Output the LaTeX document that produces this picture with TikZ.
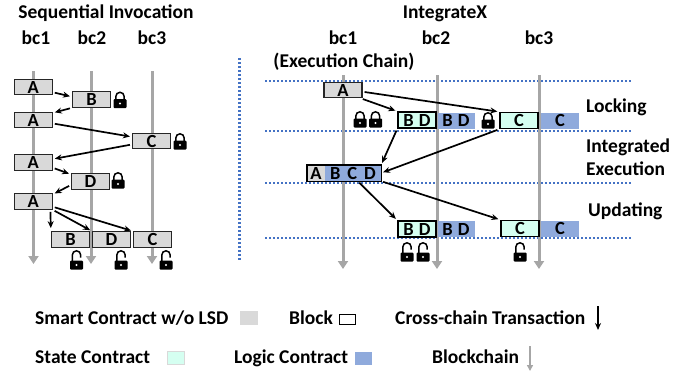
\documentclass[tikz,border=0pt]{standalone}
\usepackage{fontspec}
\setmainfont{Carlito}
\usetikzlibrary{arrows.meta}

\definecolor{smartgray}{HTML}{D9D9D9}
\definecolor{statecyan}{HTML}{D5FFF1}
\definecolor{logicblue}{HTML}{8FAADC}
\definecolor{chaingray}{HTML}{A6A6A6}
\definecolor{dotblue}{HTML}{4472C4}

\tikzset{
    every node/.style={font=\fontsize{19.5}{22}\selectfont\bfseries, inner sep=0pt},
    label/.style={anchor=base},
    labelw/.style={anchor=base west},
    boxtext/.style={font=\fontsize{18.5}{20}\selectfont\bfseries},
    smart/.style={boxtext, draw=black!85, line width=1.2pt, fill=smartgray, minimum width=38pt, minimum height=15.5pt},
    statebox/.style={boxtext, draw=black, line width=1.4pt, fill=statecyan, minimum width=38pt, minimum height=16pt},
    logicbox/.style={boxtext, fill=logicblue, minimum width=37pt, minimum height=16pt},
    chain/.style={draw=chaingray, line width=3pt, -{Triangle[width=10pt,length=8pt]}},
    tx/.style={->, >={Stealth[length=7pt,width=6pt]}, line width=1.7pt, shorten >=2pt, shorten <=2pt},
    divider/.style={draw=dotblue, line width=2.2pt, dash pattern=on 2pt off 2pt},
    lockclosed/.pic={
        \draw[line width=1.5pt] (-4.2,-4) -- (-4.2,-7) arc[start angle=180, end angle=360, radius=4.2] -- (4.2,-4);
        \fill[rounded corners=1pt] (-6.5,-4.5) rectangle (6.5,4.5);
        \fill[white] (0,0) circle (1.2);
    },
    lockopen/.pic={
        \draw[line width=1.5pt] (-4.2,-4) -- (-4.2,-10) arc[start angle=180, end angle=360, radius=4.2] -- (4.2,-7.5);
        \fill[rounded corners=1pt] (-6.5,-4.5) rectangle (6.5,4.5);
        \fill[white] (0,0) circle (1.2);
    },
}

\begin{document}
\begin{tikzpicture}[x=1pt, y=-1pt]
    \useasboundingbox (0,0) rectangle (692,373);

    % titles
    \node[label] (seqtitle) at (106,18) {Sequential Invocation};
    \node[label] (sbc1) at (36,44) {bc1};
    \node[label] (sbc2) at (92,44) {bc2};
    \node[label] (sbc3) at (152,44) {bc3};
    \node[label] (inttitle) at (445,18) {IntegrateX};
    \node[label] (ibc1) at (343,44) {bc1};
    \node[label] (ibc2) at (436,44) {bc2};
    \node[label] (ibc3) at (539,44) {bc3};
    \node[label] (execchain) at (344,67) {(Execution Chain)};
    \node[labelw] (locking) at (586,112) {Locking};
    \node[labelw] (integrated) at (586,152) {Integrated};
    \node[labelw] (execution) at (586,175) {Execution};
    \node[labelw] (updating) at (588,216) {Updating};

    % dotted separators
    \draw[divider] (239.5,58) -- (239.5,260);
    \draw[divider] (265,81) -- (632,81);
    \draw[divider] (265,131) -- (632,131);
    \draw[divider] (265,183) -- (632,183);
    \draw[divider] (265,238) -- (632,238);

    % chains
    \coordinate (s1top) at (33.5,71);
    \coordinate (s1end) at (33.5,264);
    \coordinate (s2top) at (91,71);
    \coordinate (s2end) at (91,264);
    \coordinate (s3top) at (152,71);
    \coordinate (s3end) at (152,264);
    \coordinate (i1top) at (343,75);
    \coordinate (i1end) at (343,269);
    \coordinate (i2top) at (437,75);
    \coordinate (i2end) at (437,269);
    \coordinate (i3top) at (539,75);
    \coordinate (i3end) at (539,269);
    \draw[chain] (s1top) -- (s1end);
    \draw[chain] (s2top) -- (s2end);
    \draw[chain] (s3top) -- (s3end);
    \draw[chain] (i1top) -- (i1end);
    \draw[chain] (i2top) -- (i2end);
    \draw[chain] (i3top) -- (i3end);

    % sequential invocation
    \node[smart] (a1) at (33.25,87) {A};
    \node[smart] (b1) at (91.5,99.5) {B};
    \node[smart] (a2) at (33.25,120) {A};
    \node[smart] (c1) at (151.5,141) {C};
    \node[smart] (a3) at (33.25,162.5) {A};
    \node[smart] (d1) at (90.5,181.5) {D};
    \node[smart] (a4) at (33.25,201.5) {A};
    \node[smart] (b2) at (70.5,239.5) {B};
    \node[smart] (d2) at (111.5,239.5) {D};
    \node[smart] (c2) at (152.5,239.5) {C};

    \draw[tx] (a1.-15) -- (b1.172);
    \draw[tx] (b1.south west) -- (a2.20);
    \draw[tx] (a2.-10) -- (c1.168);
    \draw[tx] (c1.190) -- (a3.10);
    \draw[tx] (a3.-15) -- (d1.160);
    \draw[tx] (d1.190) -- (a4.20);
    \draw[tx, shorten >=3pt] (a4.-26) -- (b2.north west);
    \draw[tx] (a4.south east) -- (d2.north west);
    \draw[tx] (a4.-15) -- (c2.north west);

    \pic at (120,103.5) {lockclosed};
    \pic at (180,145) {lockclosed};
    \pic at (118,184) {lockclosed};
    \pic at (76.5,265) {lockopen};
    \pic at (121,265) {lockopen};
    \pic at (166,265) {lockopen};

    % integratex
    \node[smart] (xa) at (343,90) {A};
    \node[logicbox] (lbd1) at (456,120.5) {B\hspace{5pt}D};
    \node[statebox] (sbd1) at (417,120) {B\hspace{5pt}D};
    \node[logicbox, minimum width=38pt] (lc1) at (560,120.5) {C};
    \node[statebox] (sc1) at (519,120.5) {C};

    \node[boxtext, fill=smartgray, minimum width=18pt, minimum height=16pt] (xia) at (316,173) {A};
    \node[boxtext, fill=logicblue, minimum width=56pt, minimum height=16pt] (xib) at (353,173) {B\hspace{7pt}C\hspace{7pt}D};
    \draw[line width=1.4pt] (xia.north west) rectangle (xib.south east);

    \node[logicbox] (lbd2) at (456,229) {B\hspace{5pt}D};
    \node[statebox] (sbd2) at (417,229) {B\hspace{5pt}D};
    \node[logicbox, minimum width=38pt] (lc2) at (560,228.5) {C};
    \node[statebox] (sc2) at (520,228.5) {C};

    \draw[tx] (xa.-25) -- (sbd1.north west);
    \draw[tx] (xa.-5) -- (sc1.north west);
    \draw[tx] (sbd1.south west) -- (xib.north east);
    \draw[tx] (sc1.south west) -- (xib.east);
    \draw[tx] (xib.-60) -- (sbd2.north west);
    \draw[tx] (xib.south east) -- (sc2.north west);

    \pic at (360,123) {lockclosed};
    \pic at (375.5,123) {lockclosed};
    \pic at (488,124) {lockclosed};
    \pic at (407,257) {lockopen};
    \pic at (423,257) {lockopen};
    \pic at (520,257) {lockopen};

    % legend
    \node[labelw] (lgsmart) at (35,324) {Smart Contract w/o LSD};
    \node[fill=smartgray, draw=black!15, minimum width=17pt, minimum height=13pt] (swsmart) at (248.5,318) {};
    \node[labelw] (lgblock) at (289,324) {Block};
    \node[draw=black, line width=1pt, fill=white, minimum width=16pt, minimum height=10pt] (swblock) at (347.5,319.5) {};
    \node[labelw] (lgtx) at (395,324) {Cross-chain Transaction};
    \coordinate (lgtxtop) at (598,306);
    \coordinate (lgtxend) at (598,330);
    \draw[->, >={Stealth[length=7pt,width=6pt]}, line width=1.5pt] (lgtxtop) -- (lgtxend);
    \node[labelw] (lgstate) at (35,363) {State Contract};
    \node[fill=statecyan, draw=black!15, minimum width=17pt, minimum height=13pt] (swstate) at (175.5,358) {};
    \node[labelw] (lglogic) at (234,363) {Logic Contract};
    \node[fill=logicblue, minimum width=17pt, minimum height=13pt] (swlogic) at (363.5,358) {};
    \node[labelw] (lgchain) at (432,363) {Blockchain};
    \coordinate (lgchaintop) at (530,346);
    \coordinate (lgchainend) at (530,371);
    \draw[draw=chaingray, line width=1.6pt, -{Triangle[width=6pt,length=6pt]}] (lgchaintop) -- (lgchainend);
\end{tikzpicture}
\end{document}
